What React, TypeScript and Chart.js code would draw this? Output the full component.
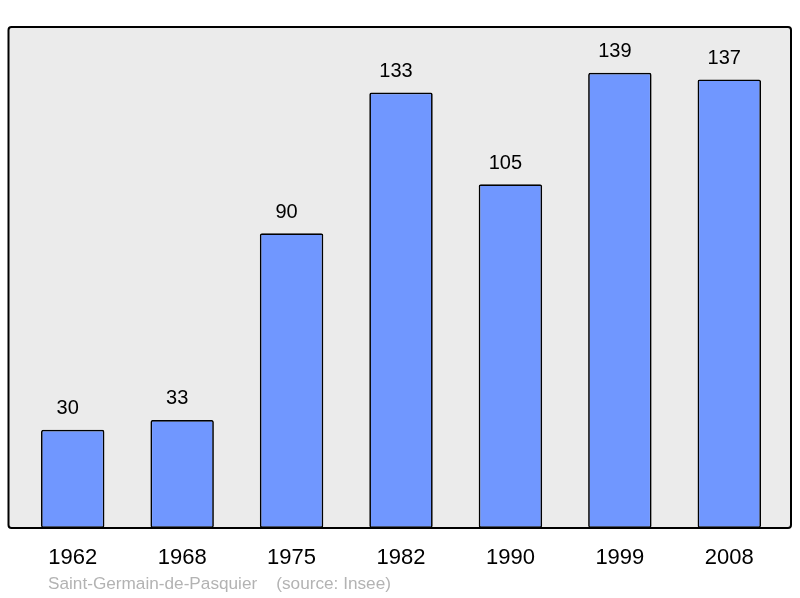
import React, { useEffect, useRef } from "react";
import { Chart, registerables } from "chart.js";

Chart.register(...registerables);

const years = ["1962", "1968", "1975", "1982", "1990", "1999", "2008"];
const population = [30, 33, 90, 133, 105, 139, 137];
const sourceText = "Saint-Germain-de-Pasquier    (source: Insee)";

const FONT = "'Liberation Sans', Arial, sans-serif";

const boxPlugin = {
  id: "boxPlugin",
  beforeDatasetsDraw(chart: any) {
    const { ctx, chartArea } = chart;
    const l = chartArea.left - 9.5, r = chartArea.right + 7, t = chartArea.top, b = chartArea.bottom;
    ctx.save();
    ctx.beginPath();
    ctx.roundRect(l, t, r - l, b - t, 3);
    ctx.fillStyle = "#ebebeb";
    ctx.fill();
    ctx.restore();
  },
  afterDatasetsDraw(chart: any) {
    const { ctx, chartArea } = chart;
    const l = chartArea.left - 9.5, r = chartArea.right + 7, t = chartArea.top, b = chartArea.bottom;
    ctx.save();
    ctx.beginPath();
    ctx.roundRect(l, t, r - l, b - t, 3);
    ctx.lineWidth = 2;
    ctx.strokeStyle = "#000";
    ctx.stroke();
    // value labels
    const meta = chart.getDatasetMeta(0);
    ctx.fillStyle = "#000";
    ctx.font = `20px ${FONT}`;
    ctx.textAlign = "center";
    ctx.textBaseline = "middle";
    meta.data.forEach((el: any, i: number) => {
      ctx.fillText(String(chart.data.datasets[0].data[i]), el.x - 5, el.y - 21);
    });
    // source
    ctx.fillStyle = "#b3b3b3";
    ctx.font = `17.2px ${FONT}`;
    ctx.textAlign = "left";
    ctx.fillText(sourceText, 48, 584);
    ctx.restore();
  },
};

export default function App() {
  const ref = useRef<HTMLCanvasElement>(null);
  useEffect(() => {
    document.body.style.margin = "0";
    const chart = new Chart(ref.current!, {
      type: "bar",
      data: {
        labels: years,
        datasets: [
          {
            data: population,
            backgroundColor: "#7097ff",
            borderColor: "#000",
            borderWidth: 1.7,
            borderRadius: 2,
            borderSkipped: false,
            barPercentage: 0.58,
            categoryPercentage: 1,
          },
        ],
      },
      options: {
        animation: false,
        responsive: false,
        devicePixelRatio: 1,
        layout: { padding: { left: 18, right: 16, top: 27, bottom: 0 } },
        plugins: { legend: { display: false }, tooltip: { enabled: false } },
        scales: {
          x: {
            grid: { display: false, drawTicks: false },
            border: { display: false },
            ticks: { color: "#000", font: { family: FONT, size: 22 }, padding: 17 },
            afterFit: (s: any) => { s.height = 70; },
          },
          y: { display: false, min: 0, max: 153 },
        },
      },
      plugins: [boxPlugin],
    });
    return () => chart.destroy();
  }, []);
  return (
    <div style={{ width: 800, height: 598 }}>
      <canvas ref={ref} width={800} height={598} />
    </div>
  );
}
